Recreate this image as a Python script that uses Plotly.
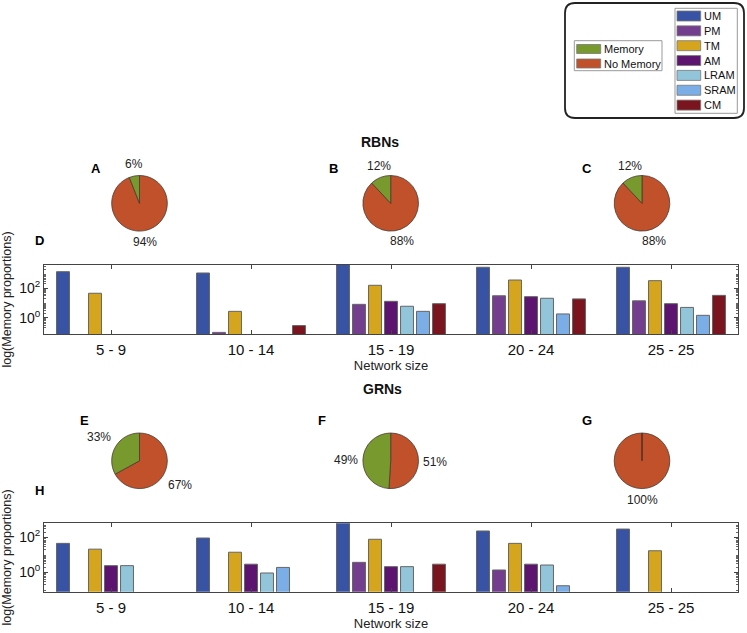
import math
import plotly.graph_objects as go

W, H = 747, 633

# ---------------- data ----------------
size_labels = ['5 - 9', '10 - 14', '15 - 19', '20 - 24', '25 - 25']
series_names = ['UM', 'PM', 'TM', 'AM', 'LRAM', 'SRAM', 'CM']
series_colors = ['#3853A4', '#743E8F', '#D5A61D', '#5C1470', '#92C4DA', '#7BAEE6', '#7A1520']

# RBNs memory counts (log scale)
rbn_UM = [1350, 1100, 4500, 2700, 2700]
rbn_PM = [0, 0.1, 8.1, 31, 14]
rbn_TM = [46, 2.7, 160, 365, 330]
rbn_AM = [0, 0, 13, 27, 9]
rbn_LRAM = [0, 0, 6, 21, 5]
rbn_SRAM = [0, 0, 2.7, 1.8, 1.45]
rbn_CM = [0, 0.29, 9, 19, 33]

# GRNs memory counts (log scale)
grn_UM = [45, 91, 800, 230, 296]
grn_PM = [0, 0, 3.7, 1.35, 0]
grn_TM = [21, 14, 77, 45, 17]
grn_AM = [2.4, 2.9, 2.1, 2.9, 0]
grn_LRAM = [2.4, 0.91, 2.1, 2.6, 0]
grn_SRAM = [0, 1.9, 0, 0.17, 0]
grn_CM = [0, 0, 2.9, 0, 0]

pie_labels = ['Memory', 'No Memory']
pie_colors = ['#77992D', '#C0512A']
rbn_pie_letters = ['A', 'B', 'C']
rbn_memory_pct = [6, 12, 12]
rbn_nomemory_pct = [94, 88, 88]
grn_pie_letters = ['E', 'F', 'G']
grn_memory_pct = [33, 49, 0]
grn_nomemory_pct = [67, 51, 100]

rbn_series = [rbn_UM, rbn_PM, rbn_TM, rbn_AM, rbn_LRAM, rbn_SRAM, rbn_CM]
grn_series = [grn_UM, grn_PM, grn_TM, grn_AM, grn_LRAM, grn_SRAM, grn_CM]

# ---------------- helpers ----------------
def px(x):
    return x / W

def py(y):
    return 1 - y / H

FONT = 'Liberation Sans, Arial, sans-serif'
fig = go.Figure()
shapes = []
anns = []

# ---------------- pies ----------------
pie_cx = [139.5, 390.7, 642.0]
pie_rows = [(203.3, rbn_memory_pct, rbn_nomemory_pct), (460.8, grn_memory_pct, grn_nomemory_pct)]
R = 27.8
LABEL_R = 1.13 * R
for cy, mem, nomem in pie_rows:
    for i, cx in enumerate(pie_cx):
        # No Memory drawn first clockwise from 12 o'clock, so Memory sits just left of 12
        vals = [nomem[i], mem[i]]
        fig.add_trace(go.Pie(
            labels=pie_labels[::-1], values=vals,
            marker=dict(colors=pie_colors[::-1], line=dict(color='#4a3a30', width=0.8)),
            sort=False, direction='clockwise', rotation=0, textinfo='none',
            domain=dict(x=[px(cx - R), px(cx + R)], y=[py(cy + R), py(cy - R)]),
            showlegend=False, hoverinfo='label+percent'))
        # percentage labels placed outside each slice (MATLAB style)
        total = float(sum(vals))
        start = 0.0
        for v in vals:
            if v <= 0:
                continue
            mid = (start + v / 2.0) / total * 2 * math.pi
            start += v
            s, c = math.sin(mid), math.cos(mid)
            xa = 'center' if abs(s) < 0.4 else ('left' if s > 0 else 'right')
            ya = 'middle' if abs(c) < 0.4 else ('bottom' if c > 0 else 'top')
            anns.append(dict(text='%d%%' % v, x=px(cx + LABEL_R * s), y=py(cy - LABEL_R * c),
                             xref='paper', yref='paper', xanchor=xa, yanchor=ya,
                             showarrow=False, borderpad=0,
                             font=dict(family=FONT, size=12, color='#222')))
        if mem[i] == 0:
            shapes.append(dict(type='line', xref='paper', yref='paper',
                               x0=px(cx), x1=px(cx), y0=py(cy), y1=py(cy - R),
                               line=dict(color='#5a3020', width=1)))

# ---------------- bars ----------------
for axn, series in [('', rbn_series), ('2', grn_series)]:
    for name, color, vals in zip(series_names, series_colors, series):
        fig.add_trace(go.Bar(
            x=size_labels, y=vals, name=name,
            marker=dict(color=color, line=dict(color='#666', width=1)),
            xaxis='x' + axn, yaxis='y' + axn, showlegend=False))

minor_vals = [m * 10 ** e for e in range(-2, 4) for m in range(2, 10)]
axis_common = dict(showline=True, linecolor='#444', linewidth=1, mirror='ticks',
                   ticks='inside', ticklen=4, tickcolor='#444', showgrid=False, zeroline=False)

def xax():
    return dict(**axis_common, type='category', domain=[px(44), px(738)],
                range=[-0.4786, 4.4786], tickfont=dict(family=FONT, size=15, color='#111'),
                ticklabelstandoff=2,
                title=dict(text='Network size', font=dict(family=FONT, size=13, color='#222'), standoff=0))

def yax(top, bottom, rng):
    return dict(**axis_common, type='log', domain=[py(bottom), py(top)], range=rng,
                tickvals=[1, 100], ticktext=['10<sup>0</sup>', '10<sup>2</sup>'],
                tickfont=dict(family=FONT, size=14, color='#111'),
                minor=dict(ticks='inside', ticklen=2, tickcolor='#666', tickvals=minor_vals),
                title=dict(text='log(Memory proportions)', font=dict(family=FONT, size=12.5, color='#222'), standoff=4))

fig.update_layout(
    width=W, height=H, margin=dict(l=0, r=0, t=0, b=0),
    paper_bgcolor='white', plot_bgcolor='white',
    barmode='group', bargap=0.2, bargroupgap=0.19,
    xaxis=dict(**xax(), anchor='y'),
    yaxis=dict(**yax(265, 334, [-1.11, 3.585]), anchor='x'),
    xaxis2=dict(**xax(), anchor='y2'),
    yaxis2=dict(**yax(523.3, 591.7, [-1.11, 2.8]), anchor='x2'),
    showlegend=False,
)

# ---------------- titles & panel letters ----------------
for txt, x, y in [('RBNs', 380, 131.7), ('GRNs', 382, 389.3)]:
    anns.append(dict(text='<b>%s</b>' % txt, x=px(x), y=py(y), xref='paper', yref='paper',
                     showarrow=False, font=dict(family=FONT, size=14, color='#111')))
letters = list(zip(rbn_pie_letters, [88.5, 333, 593.5], [159.3] * 3)) + \
          list(zip(grn_pie_letters, [77.5, 322, 593.5], [420.7] * 3)) + \
          [('D', 33, 241), ('H', 33, 500)]
for txt, x, y in letters:
    anns.append(dict(text='<b>%s</b>' % txt, x=px(x), y=py(y), xref='paper', yref='paper',
                     showarrow=False, font=dict(family=FONT, size=13, color='#000')))

# ---------------- legend block (drawn) ----------------
x0, y0, x1, y1, r = 565, 3, 744, 118, 10
path = ('M{a},{b} L{c},{b} Q{d},{b} {d},{e} L{d},{f} Q{d},{g} {c},{g} '
        'L{a},{g} Q{h},{g} {h},{f} L{h},{e} Q{h},{b} {a},{b} Z').format(
    a=px(x0 + r), b=py(y0), c=px(x1 - r), d=px(x1), e=py(y0 + r), f=py(y1 - r),
    g=py(y1), h=px(x0))
shapes.append(dict(type='path', path=path, xref='paper', yref='paper',
                   line=dict(color='#222', width=1.8), layer='above'))

def legend_block(box, names, colors, y_first, step, sw_x0, sw_x1, sw_h, text_x):
    shapes.append(dict(type='rect', xref='paper', yref='paper',
                       x0=px(box[0]), x1=px(box[1]), y0=py(box[3]), y1=py(box[2]),
                       line=dict(color='#999', width=1), fillcolor='white', layer='above'))
    for k, (nm, col) in enumerate(zip(names, colors)):
        yc = y_first + k * step
        shapes.append(dict(type='rect', xref='paper', yref='paper',
                           x0=px(sw_x0), x1=px(sw_x1), y0=py(yc + sw_h / 2), y1=py(yc - sw_h / 2),
                           line=dict(color='#777', width=0.8), fillcolor=col, layer='above'))
        anns.append(dict(text=nm, x=px(text_x), y=py(yc), xref='paper', yref='paper',
                         xanchor='left', yanchor='middle', showarrow=False,
                         font=dict(family=FONT, size=11, color='#111')))

legend_block((574.3, 662, 40.7, 70.7), pie_labels, pie_colors, 49, 14.5, 576.7, 600.7, 9, 601.5)
legend_block((675, 737.3, 8.3, 113.3), series_names, series_colors, 16, 14.85, 677, 700.7, 10, 701.5)

fig.update_layout(annotations=anns, shapes=shapes)
fig.write_html('out.html', config={'displayModeBar': False},
               post_script="document.body.style.margin='0';")
